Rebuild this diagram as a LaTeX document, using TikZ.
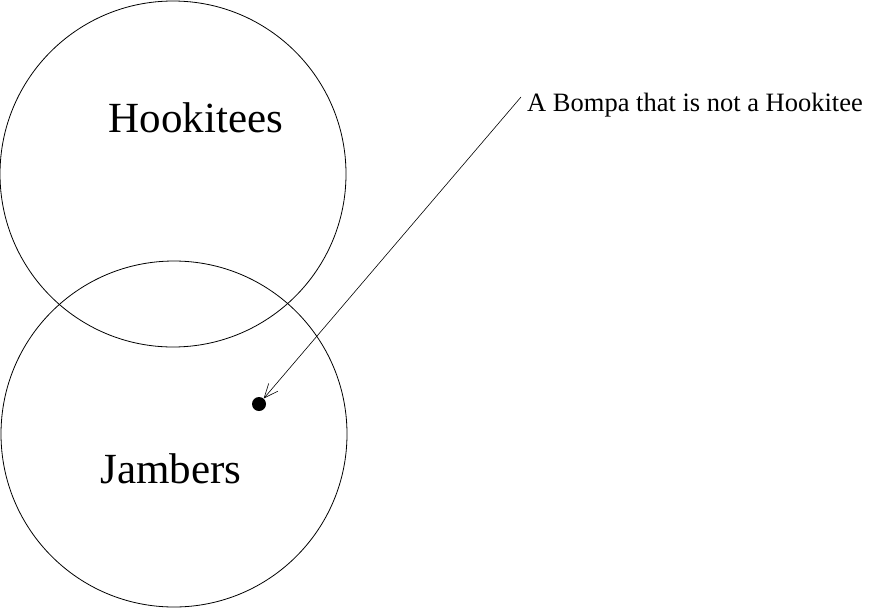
\documentclass[tikz,border=0pt]{standalone}
\usepackage{fontspec}
\setmainfont{Liberation Serif}
\usetikzlibrary{arrows.meta}
\begin{document}
\begin{tikzpicture}[x=1pt,y=-1pt,
  setcircle/.style={draw,circle,line width=0.8pt,minimum size=346pt,inner sep=0pt},
  bigtext/.style={font=\fontsize{43}{48}\selectfont,inner sep=0pt},
  smalltext/.style={font=\fontsize{26.5}{30}\selectfont,inner sep=0pt,anchor=base west},
  pointer/.style={line width=0.6pt,-{Straight Barb[length=14pt,width=12pt,line width=0.6pt]}}]
\useasboundingbox (0,0) rectangle (890,608);
\node[setcircle] (hook) at (173,174) {};
\node[setcircle] (jamb) at (174,434) {};
\node[bigtext,anchor=base] (hooklbl) at (196,132) {Hookitees};
\node[bigtext,anchor=base] (jamblbl) at (171,483) {Jambers};
\node[smalltext] (lbl) at (527,111) {A Bompa that is not a Hookitee};
\node[circle,fill=black,minimum size=14pt,inner sep=0pt] (dot) at (259,404) {};
\coordinate (start) at (521,97);
\draw[pointer] (start) -- (dot);
\end{tikzpicture}
\end{document}
